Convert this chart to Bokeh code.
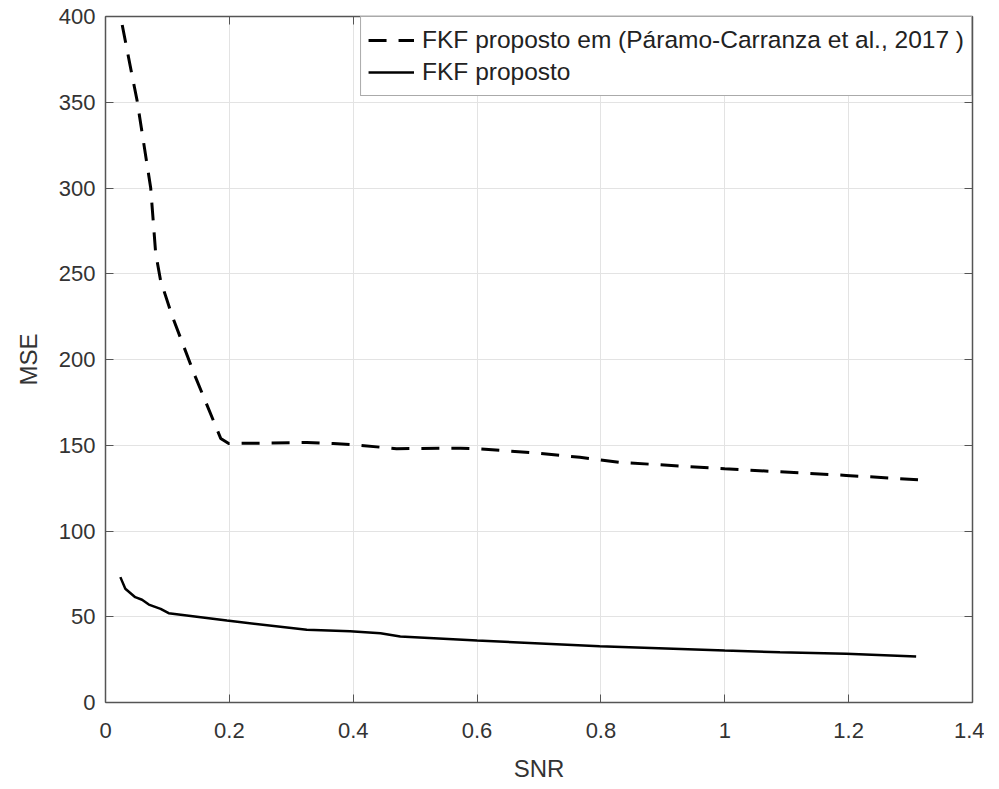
from bokeh.plotting import figure
from bokeh.models import LinearAxis, Range1d, Legend, LegendItem, FixedTicker
from bokeh.embed import file_html
from bokeh.resources import INLINE

# Data
snr_ref = [0.027, 0.040, 0.051, 0.073, 0.081, 0.089, 0.108, 0.145, 0.186, 0.199,
           0.325, 0.368, 0.40, 0.47, 0.573, 0.60, 0.69, 0.766, 0.831, 1.0, 1.196, 1.312]
mse_ref = [395, 371, 351, 300, 262, 246, 225, 190, 154, 151,
           151.6, 151, 150.3, 148, 148.3, 148, 145.6, 143, 140, 136.3, 132.4, 129.9]

snr_new = [0.024, 0.032, 0.048, 0.059, 0.070, 0.089, 0.102, 0.196, 0.325, 0.395,
           0.444, 0.476, 0.60, 0.798, 1.0, 1.089, 1.196, 1.309]
mse_new = [73.1, 66.3, 61.4, 59.9, 57.1, 54.6, 52.1, 47.8, 42.4, 41.6,
           40.4, 38.5, 36.2, 32.8, 30.3, 29.3, 28.4, 26.8]

x_ticks = [0, 0.2, 0.4, 0.6, 0.8, 1.0, 1.2, 1.4]
y_ticks = [0, 50, 100, 150, 200, 250, 300, 350, 400]

FONT = "Liberation Sans"
TXT = "#333333"
AX = "#555555"

p = figure(frame_width=867, frame_height=686, output_backend="svg", toolbar_location=None,
           x_range=Range1d(0, 1.4), y_range=Range1d(0, 400),
           min_border_left=105, min_border_top=16, min_border_right=12, min_border_bottom=80)
p.outline_line_color = None
p.background_fill_color = "white"

for ax in (p.xaxis[0], p.yaxis[0]):
    ax.major_label_text_font = FONT
    ax.major_label_text_font_size = "22px"
    ax.major_label_text_color = TXT
    ax.axis_label_text_font = FONT
    ax.axis_label_text_font_size = "24px"
    ax.axis_label_text_font_style = "normal"
    ax.axis_label_text_color = TXT
    ax.axis_line_color = AX
    ax.axis_line_width = 1.5
    ax.major_tick_line_color = AX
    ax.major_tick_in = 8
    ax.major_tick_out = 0
    ax.minor_tick_line_color = None

p.xaxis[0].ticker = FixedTicker(ticks=x_ticks)
p.yaxis[0].ticker = FixedTicker(ticks=y_ticks)
p.xaxis[0].major_label_overrides = {1.0: "1", 0: "0"}
p.xaxis[0].axis_label = "SNR"
p.yaxis[0].axis_label = "MSE"
p.xaxis[0].major_label_standoff = 20
p.yaxis[0].major_label_standoff = 10
p.xaxis[0].axis_label_standoff = 14
p.yaxis[0].axis_label_standoff = 14

for loc, ticks in (("right", y_ticks), ("above", x_ticks)):
    a = LinearAxis(ticker=FixedTicker(ticks=ticks))
    a.major_label_overrides = {t: "" for t in ticks}
    a.major_label_text_font_size = "1px"
    a.major_label_standoff = 0
    a.axis_line_color = AX
    a.axis_line_width = 1.5
    a.major_tick_line_color = AX
    a.major_tick_in = 8
    a.major_tick_out = 0
    a.minor_tick_line_color = None
    p.add_layout(a, loc)

p.xgrid.ticker = FixedTicker(ticks=x_ticks)
p.ygrid.ticker = FixedTicker(ticks=y_ticks)
p.grid.grid_line_color = "#e3e3e3"
p.grid.grid_line_width = 1

r1 = p.line(snr_ref, mse_ref, line_color="black", line_width=3, line_dash="18 12")
r2 = p.line(snr_new, mse_new, line_color="black", line_width=2.5)

legend = Legend(items=[
    LegendItem(label="FKF proposto em (Páramo-Carranza et al., 2017 )", renderers=[r1]),
    LegendItem(label="FKF proposto", renderers=[r2]),
], location="top_right")
legend.margin = 0
legend.padding = 7
legend.spacing = 0
legend.label_height = 32
legend.glyph_height = 32
legend.glyph_width = 46
legend.label_standoff = 8
legend.label_text_font = FONT
legend.label_text_font_size = "24.5px"
legend.label_text_color = "#222222"
legend.border_line_color = AX
legend.border_line_width = 1.5
legend.background_fill_alpha = 1
p.add_layout(legend, "center")

open("out.html", "w").write(file_html(p, INLINE))
